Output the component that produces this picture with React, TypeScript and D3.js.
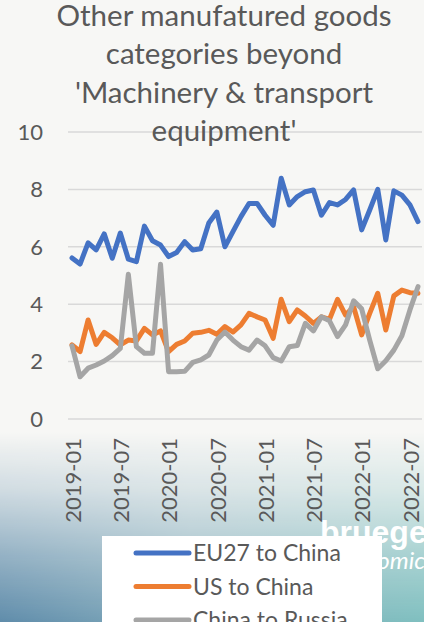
import React from "react";
import * as d3 from "d3";

const months: string[] = [];
for (let y = 2019; y <= 2022; y++) {
  for (let m = 1; m <= 12; m++) {
    if (y === 2022 && m > 8) break;
    months.push(`${y}-${String(m).padStart(2, "0")}`);
  }
}

const eu27ToChina = [
  5.61, 5.4, 6.14, 5.89, 6.45, 5.6, 6.48, 5.57, 5.48, 6.72, 6.21, 6.06,
  5.66, 5.8, 6.18, 5.89, 5.93, 6.83, 7.21, 6.0, 6.53, 7.05, 7.51, 7.51,
  7.1, 6.75, 8.39, 7.46, 7.75, 7.92, 7.98, 7.1, 7.54, 7.46, 7.65, 7.98,
  6.59, 7.28, 8.0, 6.24, 7.95, 7.8, 7.46, 6.88,
];
const usToChina = [
  2.58, 2.35, 3.45, 2.6, 3.02, 2.83, 2.58, 2.75, 2.72, 3.16, 2.93, 3.07,
  2.35, 2.6, 2.72, 2.99, 3.02, 3.09, 2.95, 3.22, 3.03, 3.28, 3.68, 3.56,
  3.45, 2.81, 4.17, 3.39, 3.8, 3.59, 3.33, 3.56, 3.47, 4.17, 3.62, 3.91,
  2.93, 3.68, 4.38, 3.1, 4.29, 4.49, 4.4, 4.38,
];
const chinaToRussia = [
  2.55, 1.47, 1.77, 1.88, 2.02, 2.21, 2.46, 5.04, 2.52, 2.29, 2.29, 5.39,
  1.65, 1.65, 1.66, 1.97, 2.06, 2.23, 2.75, 3.03, 2.75, 2.52, 2.4, 2.75,
  2.55, 2.14, 2.02, 2.52, 2.56, 3.33, 3.07, 3.56, 3.42, 2.87, 3.28, 4.12,
  3.84, 2.75, 1.75, 2.03, 2.4, 2.9, 3.8, 4.61,
];

const yTicks = [0, 2, 4, 6, 8, 10];
const xTickLabels = ["2019-01", "2019-07", "2020-01", "2020-07", "2021-01", "2021-07", "2022-01", "2022-07"];
const titleLines = ["Other manufatured goods", "categories beyond", "'Machinery & transport", "equipment'"];

const series = [
  { name: "EU27 to China", values: eu27ToChina, color: "#4472C4" },
  { name: "US to China", values: usToChina, color: "#ED7D31" },
  { name: "China to Russia", values: chinaToRussia, color: "#A5A5A5" },
];

const W = 424;
const H = 622;
const FONT = "Lato, 'Open Sans', sans-serif";

export default function App() {
  const x = d3.scaleBand<string>().domain(months).range([68, 422]).paddingInner(0).paddingOuter(0);
  const cx = (m: string) => (x(m) as number) + x.bandwidth() / 2;
  const y = d3.scaleLinear().domain([0, 10]).range([419, 132]);

  const line = d3
    .line<number>()
    .x((_, i) => cx(months[i]))
    .y((d) => y(d));

  return (
    <svg
      width={W}
      height={H}
      style={{ position: "absolute", left: 0, top: 0, display: "block" }}
      viewBox={`0 0 ${W} ${H}`}
    >
      <defs>
        <linearGradient id="hz" x1="0" y1="0" x2="1" y2="0">
          <stop offset="0" stopColor="#5f8caa" />
          <stop offset="0.45" stopColor="#86aebd" />
          <stop offset="1" stopColor="#7fbfbf" />
        </linearGradient>
        <linearGradient id="vt" x1="0" y1="0" x2="0" y2="1">
          <stop offset="0" stopColor="#fff" stopOpacity="0" />
          <stop offset="0.3" stopColor="#fff" stopOpacity="0.25" />
          <stop offset="0.65" stopColor="#fff" stopOpacity="0.65" />
          <stop offset="1" stopColor="#fff" stopOpacity="1" />
        </linearGradient>
        <mask id="vm">
          <rect x={0} y={432} width={W} height={H - 432} fill="url(#vt)" />
        </mask>
      </defs>
      <rect x={0} y={0} width={W} height={H} fill="#f7f7f5" />
      <rect x={0} y={432} width={W} height={H - 432} fill="url(#hz)" mask="url(#vm)" />

      {/* watermark */}
      <text x={320} y={543} fill="#ffffff" fontFamily="'Liberation Sans', Arial, sans-serif" fontWeight="bold" fontSize={32}>
        bruegel
      </text>
      <text x={330} y={569} fill="#ffffff" fontFamily={FONT} fontStyle="italic" fontSize={24}>
        economics
      </text>

      {/* gridlines */}
      {yTicks.map((t) => (
        <line key={t} x1={68} x2={422} y1={y(t)} y2={y(t)} stroke="#d9d9d9" strokeWidth={1.5} />
      ))}
      {yTicks.map((t) => (
        <text
          key={"l" + t}
          x={43}
          y={y(t)}
          dy="0.35em"
          textAnchor="end"
          fill="#595959"
          fontFamily={FONT}
          fontSize={22}
        >
          {t}
        </text>
      ))}

      {/* x labels */}
      {xTickLabels.map((lab) => (
        <text
          key={lab}
          transform={`translate(${cx(lab) + 1},438) rotate(-90)`}
          textAnchor="end"
          dy="0.35em"
          fill="#595959"
          fontFamily={FONT}
          fontSize={22}
        >
          {lab}
        </text>
      ))}

      {/* title */}
      {titleLines.map((t, i) => (
        <text
          key={t}
          x={224}
          y={26 + i * 38.3}
          textAnchor="middle"
          fill="#595959"
          fontFamily={FONT}
          fontSize={29.5}
        >
          {t}
        </text>
      ))}

      {/* lines */}
      {series.map((s) => (
        <path
          key={s.name}
          d={line(s.values) as string}
          fill="none"
          stroke={s.color}
          strokeWidth={5}
          strokeLinejoin="round"
          strokeLinecap="round"
        />
      ))}

      {/* legend */}
      <rect x={102} y={536} width={280} height={100} fill="#ffffff" />
      {series.map((s, i) => (
        <g key={"lg" + s.name} transform={`translate(0,${553 + i * 33.5})`}>
          <line x1={136} x2={189} y1={0} y2={0} stroke={s.color} strokeWidth={5} strokeLinecap="round" />
          <text x={193} y={0} dy="0.36em" fill="#595959" fontFamily={FONT} fontSize={23}>
            {s.name}
          </text>
        </g>
      ))}
    </svg>
  );
}
